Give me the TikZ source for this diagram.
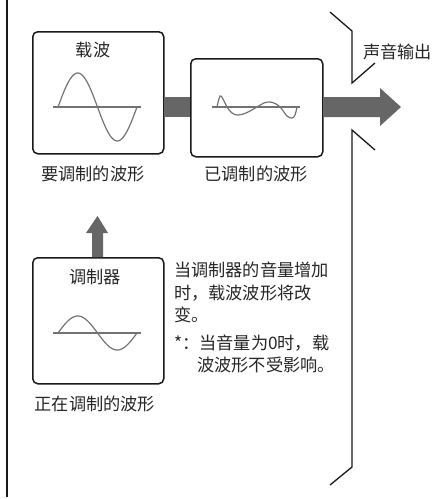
\documentclass[tikz,border=0pt]{standalone}
\usepackage{fontspec}
\newfontfamily\cjk{Noto Sans CJK SC}
\begin{document}
\begin{tikzpicture}[x=1pt,y=-1pt,
  box/.style={draw=black!90,line width=1.5pt,rounded corners=5pt},
  wave/.style={draw=black!55,line width=1.2pt},
  axisline/.style={draw=black!55,line width=1.1pt},
  bar/.style={fill=black!60,draw=none},
  bracket/.style={draw=black!90,line width=1.3pt},
  lbl/.style={font=\cjk\fontsize{17.2}{20}\selectfont,text=black!85,inner sep=0pt},
  note/.style={font=\cjk\fontsize{17.2}{20}\selectfont,text=black!85,inner sep=0pt,anchor=west}]
\useasboundingbox (0,0) rectangle (442,499);
% left border
\draw[line width=2.4pt,black!90] (7,0) -- (7,497);
% right bracket (speaker opening)
\draw[bracket] (330,12) -- (352,31) -- (352,83) -- (375,63);
\draw[bracket] (375,150) -- (352,130) -- (352,467) -- (330,485);
% boxes
\node[box,minimum width=131pt,minimum height=122pt,anchor=north west] (b1) at (32,31) {};
\node[box,minimum width=132pt,minimum height=98pt,anchor=north west] (b2) at (190,58) {};
\node[box,minimum width=131pt,minimum height=126pt,anchor=north west] (b3) at (32,257) {};
% connectors (gray bars)
\fill[bar] (b1.east |- 0,97) rectangle (b2.west |- 0,117);
\coordinate (tip) at (401,107);
\fill[bar] (b2.east |- 0,97) -- (380,97) -- (380,88) -- (tip) -- (380,126) -- (380,117) -- (b2.east |- 0,117) -- cycle;
\coordinate (utip) at (97.5,216);
\fill[bar] (92,0 |- b3.north) -- (92,233) -- (86,233) -- (utip) -- (108,233) -- (103,233) -- (103,0 |- b3.north) -- cycle;
% titles and labels
\node[lbl] (t1) at (93,50) {载波};
\node[lbl] (t3) at (95,277) {调制器};
\node[lbl] (l1) at (93,174) {要调制的波形};
\node[lbl] (l2) at (256,174) {已调制的波形};
\node[lbl] (l3) at (95,404) {正在调制的波形};
\node[lbl,anchor=west] (out) at (363,52) {声音输出};
% note text
\node[note] (n1) at (174,270) {当调制器的音量增加};
\node[note] (n2) at (174,293) {时，载波波形将改};
\node[note] (n3) at (174,315) {变。};
\node[note] (n4) at (174,343) {*：当音量为0时，载};
\node[note] (n5) at (197,365) {波波形不受影响。};
% waves box1
\draw[axisline] (53,107) -- (141,107);
\draw[wave,domain=0:1,samples=60,smooth,variable=\t] plot ({58+79*\t},{107-34*sin(360*\t)});
% box3 wave
\draw[axisline] (53,333) -- (141,333);
\draw[wave,domain=0:1,samples=60,smooth,variable=\t] plot ({58+79*\t},{333-17*sin(360*\t)});
% box2 modulated wave
\draw[axisline] (212,107) -- (300,107);
\draw[wave] plot[smooth,tension=0.6] coordinates {(217,107) (220,96) (223,99) (227,107) (232,113) (238,115) (246,113) (257,107) (264,103) (270,102) (276,104) (281,108) (287,116) (292,118) (295,115) (297,107)};
\end{tikzpicture}
\end{document}
